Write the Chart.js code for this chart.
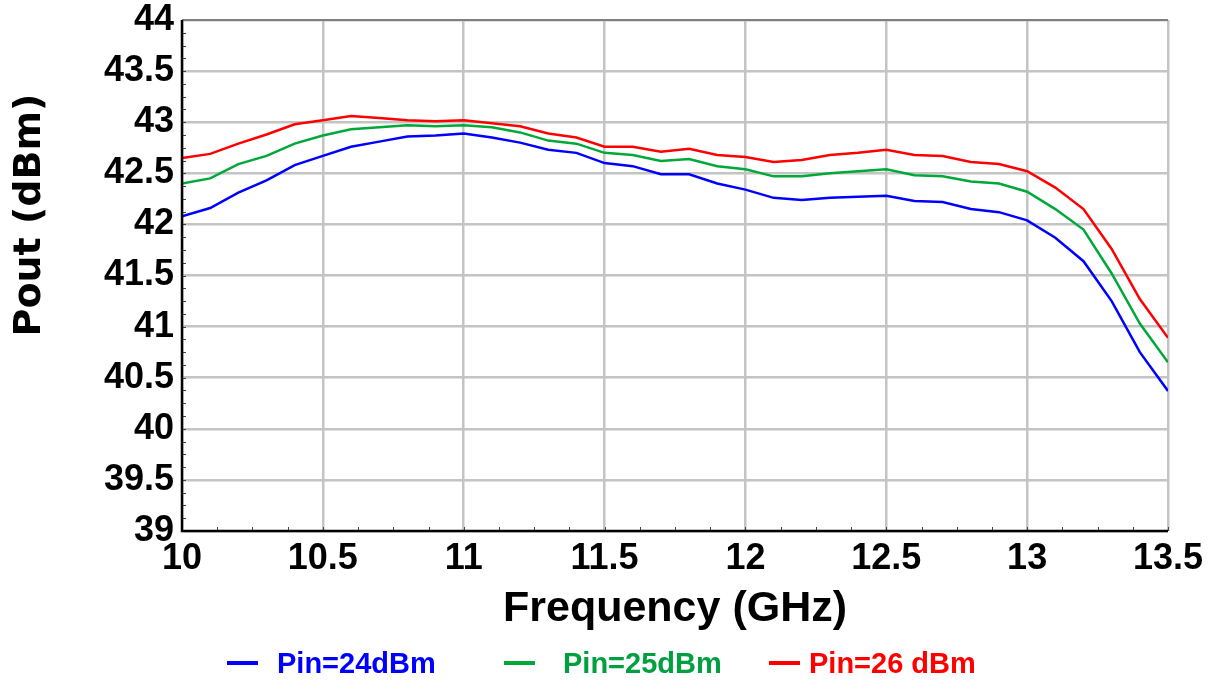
<!DOCTYPE html>
<html>
<head>
<meta charset="utf-8">
<script src="https://cdn.jsdelivr.net/npm/chart.js@4/dist/chart.umd.min.js"></script>
<style>
html,body{margin:0;padding:0;background:#fff;}
#wrap{width:1213px;height:680px;position:relative;}
.lgl{position:absolute;top:661px;width:31px;height:4px;}
.lgt{position:absolute;top:647px;height:32px;line-height:32px;font-family:"Liberation Sans",Arial,sans-serif;font-weight:bold;font-size:29px;white-space:nowrap;}
</style>
</head>
<body>
<div id="wrap"><canvas id="c" width="1213" height="680"></canvas>
<div id="legend"></div>
</div>
<script>
const freqGHz = [10.0,10.1,10.2,10.3,10.4,10.5,10.6,10.7,10.8,10.9,11.0,11.1,11.2,11.3,11.4,11.5,11.6,11.7,11.8,11.9,12.0,12.1,12.2,12.3,12.4,12.5,12.6,12.7,12.8,12.9,13.0,13.1,13.2,13.3,13.4,13.5];
const pin24 = [42.08,42.16,42.31,42.43,42.58,42.67,42.76,42.81,42.86,42.87,42.89,42.85,42.80,42.73,42.70,42.60,42.57,42.49,42.49,42.40,42.34,42.26,42.24,42.26,42.27,42.28,42.23,42.22,42.15,42.12,42.04,41.87,41.64,41.25,40.75,40.37];
const pin25 = [42.40,42.45,42.59,42.67,42.79,42.87,42.93,42.95,42.97,42.96,42.97,42.95,42.90,42.82,42.79,42.70,42.68,42.62,42.64,42.57,42.54,42.47,42.47,42.50,42.52,42.54,42.48,42.47,42.42,42.40,42.32,42.15,41.95,41.52,41.03,40.65];
const pin26 = [42.65,42.69,42.79,42.88,42.98,43.02,43.06,43.04,43.02,43.01,43.02,42.99,42.96,42.89,42.85,42.76,42.76,42.71,42.74,42.68,42.66,42.61,42.63,42.68,42.70,42.73,42.68,42.67,42.61,42.59,42.52,42.36,42.15,41.76,41.27,40.89];
const seriesNames = ['Pin=24dBm','Pin=25dBm','Pin=26 dBm'];
const seriesColors = ['#0000ff','#00a83a','#ff0000'];
const legendTextColors = ['#0000ff','#00a040','#ff0000'];
const legendLineLeft = [227, 504, 769];
const legendTextLeft = [277, 563, 809];
const xTicks = {min:10, max:13.5, step:0.5, minor:0.125};
const yTicks = {min:39, max:44, step:0.5, minor:0.125};
const xTitle = 'Frequency (GHz)';
const yTitle = 'Pout (dBm)';

const toPts = arr => arr.map((v,i)=>({x:freqGHz[i], y:v}));
const allSeries = [pin24, pin25, pin26];
const fmt = v => String(Math.round(v*10)/10);

const tickFont = {family:'"Liberation Sans", Arial, sans-serif', size:36, weight:'bold'};

// HTML legend
const lg = document.getElementById('legend');
seriesNames.forEach((n,i)=>{
  const sw = document.createElement('div');
  sw.className = 'lgl';
  sw.style.left = legendLineLeft[i] + 'px';
  sw.style.background = seriesColors[i];
  lg.appendChild(sw);
  const t = document.createElement('div');
  t.className = 'lgt';
  t.style.left = legendTextLeft[i] + 'px';
  t.style.color = legendTextColors[i];
  t.textContent = n;
  lg.appendChild(t);
});

const minorTicks = {
  id:'minorTicks',
  afterDatasetsDraw(chart){
    const ctx = chart.ctx, xs = chart.scales.x, ys = chart.scales.y, a = chart.chartArea;
    ctx.save();
    ctx.strokeStyle = '#444';
    ctx.lineWidth = 1;
    ctx.beginPath();
    for (let v = xTicks.min; v <= xTicks.max + 1e-9; v += xTicks.minor) {
      const px = Math.round(xs.getPixelForValue(v)) + 0.5;
      ctx.moveTo(px, a.bottom); ctx.lineTo(px, a.bottom - 4);
    }
    for (let v = yTicks.min; v <= yTicks.max + 1e-9; v += yTicks.minor) {
      const py = Math.round(ys.getPixelForValue(v)) + 0.5;
      ctx.moveTo(a.left, py); ctx.lineTo(a.left + 4, py);
    }
    ctx.stroke();
    ctx.strokeStyle = '#808080';
    ctx.lineWidth = 2;
    ctx.beginPath();
    ctx.moveTo(a.left, a.top); ctx.lineTo(a.right, a.top);
    ctx.stroke();
    ctx.strokeStyle = '#000';
    ctx.lineWidth = 2.5;
    ctx.beginPath();
    ctx.moveTo(a.left, a.top); ctx.lineTo(a.left, a.bottom); ctx.lineTo(a.right, a.bottom);
    ctx.stroke();
    ctx.restore();
  }
};

const yTitlePlugin = {
  id:'yTitlePlugin',
  afterDraw(chart){
    const ctx = chart.ctx;
    ctx.save();
    ctx.translate(30, 215);
    ctx.rotate(-Math.PI/2);
    ctx.font = 'bold 38px "DejaVu Sans", Verdana, sans-serif';
    ctx.fillStyle = '#000';
    ctx.textAlign = 'center';
    ctx.textBaseline = 'middle';
    ctx.fillText(yTitle, 0, 0);
    ctx.restore();
  }
};

new Chart(document.getElementById('c'), {
  type:'line',
  data:{
    datasets: allSeries.map((s,i)=>({
      label: seriesNames[i],
      data: toPts(s),
      borderColor: seriesColors[i],
      backgroundColor: seriesColors[i],
      borderWidth: 2.5,
      pointRadius: 0,
      tension: 0,
      fill: false
    }))
  },
  options:{
    responsive:false,
    animation:false,
    devicePixelRatio:1,
    layout:{padding:{top:20, right:45, left:0, bottom:45}},
    scales:{
      x:{
        type:'linear', min:xTicks.min, max:xTicks.max,
        ticks:{stepSize:xTicks.step, color:'#000', font:tickFont, padding:6, maxRotation:0, autoSkip:false, callback:fmt},
        grid:{color:'#c4c4c4', lineWidth:2.5, drawTicks:false},
        border:{display:false},
        title:{display:true, text:xTitle, color:'#000', font:{family:'"Liberation Sans", Arial, sans-serif', size:43, weight:'bold'}, padding:{top:0,bottom:0}},
        afterFit(s){ s.height = 104; s.paddingLeft = 0; s.paddingRight = 0; }
      },
      y:{
        type:'linear', min:yTicks.min, max:yTicks.max,
        ticks:{stepSize:yTicks.step, color:'#000', font:tickFont, padding:8, autoSkip:false, callback:fmt},
        grid:{color:'#c4c4c4', lineWidth:2.5, drawTicks:false},
        border:{display:false},
        afterFit(s){ s.width = 182; s.paddingTop = 0; s.paddingBottom = 0; }
      }
    },
    plugins:{
      legend:{display:false},
      tooltip:{enabled:false}
    }
  },
  plugins:[minorTicks, yTitlePlugin]
});
</script>
</body>
</html>
